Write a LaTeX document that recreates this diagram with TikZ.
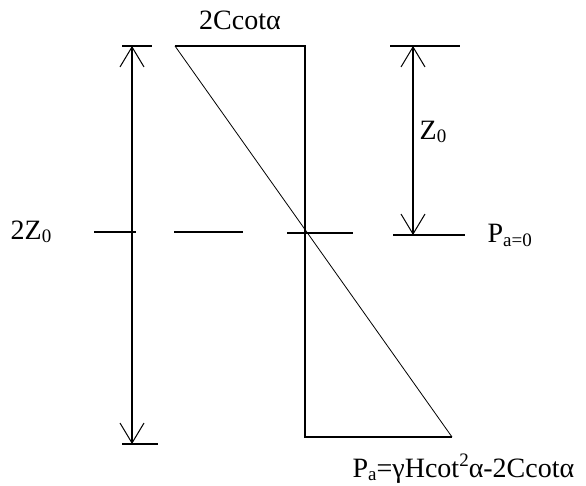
\documentclass[tikz,border=0pt]{standalone}
\usepackage{fontspec}
\setmainfont{Liberation Serif}
\usetikzlibrary{arrows.meta}
\newcommand\lowtext[1]{\raisebox{-0.12em}{\fontsize{19}{20}\selectfont #1}}
\newcommand\hightext[1]{\raisebox{0.38em}{\fontsize{19}{20}\selectfont #1}}

\begin{document}
\begin{tikzpicture}[x=1pt, y=-1pt, line width=1.3pt,
    every node/.style={inner sep=0pt, font=\fontsize{28}{32}\selectfont},
    dimline/.style={{Straight Barb[length=20pt,width=24pt,line width=1pt]}-{Straight Barb[length=20pt,width=24pt,line width=1pt]}},
    slope/.style={line width=0.8pt}]
            \useasboundingbox (0,0) rectangle (586,486);

            % left dimension 2Z0
            \coordinate (lt) at (132,46);
            \coordinate (lb) at (132,444);
            \draw (122,46) -- (152,46);
            \draw (122,444) -- (158,444);
            \draw[dimline] (lt) -- (lb);

            % right dimension Z0
            \coordinate (rt) at (413,46);
            \coordinate (rb) at (413,235);
            \draw (390,46) -- (460,46);
            \draw (393,235) -- (465,235);
            \draw[dimline] (rt) -- (rb);

            % broken line at depth Z0
            \draw (94,232) -- (136,232);
            \draw (174,232) -- (243,232);
            \draw (287,233) -- (353,233);

            % pressure diagram
            \coordinate (p1) at (175,46);
            \coordinate (p2) at (305,46);
            \coordinate (p3) at (305,437);
            \coordinate (p4) at (452,437);
            \draw (p1) -- (p2) -- (p3) -- (p4);
            \draw[slope] (p1) -- (p4);

            \node (top) at (240,20) {2Ccotα};
            \node (depth) at (31,232) {2Z\lowtext{0}};
            \node (half) at (433,132) {Z\lowtext{0}};
            \node[anchor=base west] (zero) at (487,243) {P\lowtext{a=0}};
            \node[anchor=base west] (bottom) at (352,477) {P\lowtext{a}=γHcot\hightext{2}α-2Ccotα};
        \end{tikzpicture}
\end{document}
